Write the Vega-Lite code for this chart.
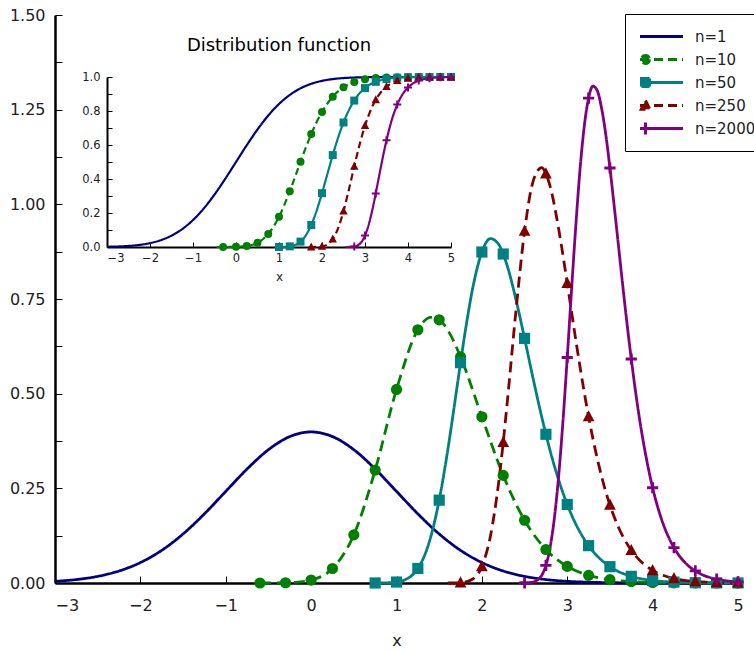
{
  "$schema": "https://vega.github.io/schema/vega-lite/v6.json",
  "width": 683,
  "height": 568,
  "autosize": "none",
  "padding": {"left": 55, "top": 15, "right": 16, "bottom": 69},
  "config": {
    "font": "DejaVu Sans",
    "view": {"stroke": null},
    "legend": {"strokeWidth": 1},
    "axis": {"grid": false, "domainColor": "black", "tickColor": "black", "tickWidth": 1, "labelColor": "#222", "titleColor": "#222", "titleFontWeight": "normal", "labelOverlap": false, "labelFlush": false, "labelFont": "DejaVu Sans", "titleFont": "DejaVu Sans"}
  },
  "datasets": {
    "d": [
      {"n": "n=1", "x": -3, "pdf": 0.00443, "cdf": 0.00135},
      {"n": "n=1", "x": -2.75, "pdf": 0.00909, "cdf": 0.00298},
      {"n": "n=1", "x": -2.5, "pdf": 0.01753, "cdf": 0.00621},
      {"n": "n=1", "x": -2.25, "pdf": 0.03174, "cdf": 0.01222},
      {"n": "n=1", "x": -2, "pdf": 0.05399, "cdf": 0.02275},
      {"n": "n=1", "x": -1.75, "pdf": 0.08628, "cdf": 0.04006},
      {"n": "n=1", "x": -1.5, "pdf": 0.12952, "cdf": 0.06681},
      {"n": "n=1", "x": -1.25, "pdf": 0.18265, "cdf": 0.10565},
      {"n": "n=1", "x": -1, "pdf": 0.24197, "cdf": 0.15866},
      {"n": "n=1", "x": -0.75, "pdf": 0.30114, "cdf": 0.22663},
      {"n": "n=1", "x": -0.5, "pdf": 0.35207, "cdf": 0.30854},
      {"n": "n=1", "x": -0.25, "pdf": 0.38667, "cdf": 0.40129},
      {"n": "n=1", "x": 0, "pdf": 0.39894, "cdf": 0.5},
      {"n": "n=1", "x": 0.25, "pdf": 0.38667, "cdf": 0.59871},
      {"n": "n=1", "x": 0.5, "pdf": 0.35207, "cdf": 0.69146},
      {"n": "n=1", "x": 0.75, "pdf": 0.30114, "cdf": 0.77337},
      {"n": "n=1", "x": 1, "pdf": 0.24197, "cdf": 0.84134},
      {"n": "n=1", "x": 1.25, "pdf": 0.18265, "cdf": 0.89435},
      {"n": "n=1", "x": 1.5, "pdf": 0.12952, "cdf": 0.93319},
      {"n": "n=1", "x": 1.75, "pdf": 0.08628, "cdf": 0.95994},
      {"n": "n=1", "x": 2, "pdf": 0.05399, "cdf": 0.97725},
      {"n": "n=1", "x": 2.25, "pdf": 0.03174, "cdf": 0.98778},
      {"n": "n=1", "x": 2.5, "pdf": 0.01753, "cdf": 0.99379},
      {"n": "n=1", "x": 2.75, "pdf": 0.00909, "cdf": 0.99702},
      {"n": "n=1", "x": 3, "pdf": 0.00443, "cdf": 0.99865},
      {"n": "n=1", "x": 3.25, "pdf": 0.00203, "cdf": 0.99942},
      {"n": "n=1", "x": 3.5, "pdf": 0.00087, "cdf": 0.99977},
      {"n": "n=1", "x": 3.75, "pdf": 0.00035, "cdf": 0.99991},
      {"n": "n=1", "x": 4, "pdf": 0.00013, "cdf": 0.99997},
      {"n": "n=1", "x": 4.5, "pdf": 0.00002, "cdf": 1},
      {"n": "n=1", "x": 5, "pdf": 0, "cdf": 1},

      {"n": "n=10", "x": -0.6, "pdf": 0.00003, "cdf": null},
      {"n": "n=10", "x": -0.45, "pdf": 0.00015, "cdf": 0.00001},
      {"n": "n=10", "x": -0.3, "pdf": 0.00066, "cdf": 0.00007},
      {"n": "n=10", "x": -0.15, "pdf": 0.00246, "cdf": 0.00027},
      {"n": "n=10", "x": 0, "pdf": 0.00779, "cdf": 0.00098},
      {"n": "n=10", "x": 0.25, "pdf": 0.03823, "cdf": 0.00592},
      {"n": "n=10", "x": 0.5, "pdf": 0.1272, "cdf": 0.02498},
      {"n": "n=10", "x": 0.75, "pdf": 0.2981, "cdf": 0.07656},
      {"n": "n=10", "x": 1, "pdf": 0.5111, "cdf": 0.17772},
      {"n": "n=10", "x": 1.25, "pdf": 0.6687, "cdf": 0.32742},
      {"n": "n=10", "x": 1.4, "pdf": 0.7017, "cdf": 0.43082},
      {"n": "n=10", "x": 1.5, "pdf": 0.6951, "cdf": 0.50082},
      {"n": "n=10", "x": 1.6, "pdf": 0.6679, "cdf": 0.5692},
      {"n": "n=10", "x": 1.75, "pdf": 0.5971, "cdf": 0.66437},
      {"n": "n=10", "x": 2, "pdf": 0.4389, "cdf": 0.79444},
      {"n": "n=10", "x": 2.25, "pdf": 0.2842, "cdf": 0.8843},
      {"n": "n=10", "x": 2.5, "pdf": 0.1657, "cdf": 0.9396},
      {"n": "n=10", "x": 2.75, "pdf": 0.0885, "cdf": 0.9706},
      {"n": "n=10", "x": 3, "pdf": 0.04378, "cdf": 0.98658},
      {"n": "n=10", "x": 3.25, "pdf": 0.02018, "cdf": 0.99425},
      {"n": "n=10", "x": 3.5, "pdf": 0.00871, "cdf": 0.99767},
      {"n": "n=10", "x": 3.75, "pdf": 0.00353, "cdf": 0.99912},
      {"n": "n=10", "x": 4, "pdf": 0.00134, "cdf": 0.99968},
      {"n": "n=10", "x": 4.25, "pdf": 0.00048, "cdf": 0.99989},
      {"n": "n=10", "x": 4.5, "pdf": 0.00016, "cdf": 0.99996},
      {"n": "n=10", "x": 4.75, "pdf": 0.00005, "cdf": 0.99999},
      {"n": "n=10", "x": 5, "pdf": 0.00002, "cdf": 1},

      {"n": "n=50", "x": 0.7, "pdf": 0.00002, "cdf": null},
      {"n": "n=50", "x": 0.75, "pdf": 0.00005, "cdf": null},
      {"n": "n=50", "x": 0.9, "pdf": 0.00062, "cdf": 0.00004},
      {"n": "n=50", "x": 1, "pdf": 0.00255, "cdf": 0.00018},
      {"n": "n=50", "x": 1.1, "pdf": 0.0086, "cdf": 0.00068},
      {"n": "n=50", "x": 1.2, "pdf": 0.0243, "cdf": 0.00222},
      {"n": "n=50", "x": 1.25, "pdf": 0.03842, "cdf": 0.00376},
      {"n": "n=50", "x": 1.3, "pdf": 0.0583, "cdf": 0.00614},
      {"n": "n=50", "x": 1.4, "pdf": 0.1209, "cdf": 0.01484},
      {"n": "n=50", "x": 1.5, "pdf": 0.2188, "cdf": 0.03152},
      {"n": "n=50", "x": 1.6, "pdf": 0.3505, "cdf": 0.05973},
      {"n": "n=50", "x": 1.7, "pdf": 0.5037, "cdf": 0.10234},
      {"n": "n=50", "x": 1.75, "pdf": 0.5819, "cdf": 0.12948},
      {"n": "n=50", "x": 1.8, "pdf": 0.657, "cdf": 0.16046},
      {"n": "n=50", "x": 1.9, "pdf": 0.7868, "cdf": 0.23293},
      {"n": "n=50", "x": 2, "pdf": 0.8741, "cdf": 0.31645},
      {"n": "n=50", "x": 2.1, "pdf": 0.9094, "cdf": 0.40615},
      {"n": "n=50", "x": 2.2, "pdf": 0.8932, "cdf": 0.49664},
      {"n": "n=50", "x": 2.25, "pdf": 0.8688, "cdf": 0.54076},
      {"n": "n=50", "x": 2.3, "pdf": 0.8353, "cdf": 0.58338},
      {"n": "n=50", "x": 2.4, "pdf": 0.7478, "cdf": 0.6625},
      {"n": "n=50", "x": 2.5, "pdf": 0.646, "cdf": 0.73239},
      {"n": "n=50", "x": 2.6, "pdf": 0.5401, "cdf": 0.79166},
      {"n": "n=50", "x": 2.7, "pdf": 0.4395, "cdf": 0.8406},
      {"n": "n=50", "x": 2.75, "pdf": 0.3927, "cdf": 0.86137},
      {"n": "n=50", "x": 2.9, "pdf": 0.2715, "cdf": 0.9121},
      {"n": "n=50", "x": 3, "pdf": 0.2074, "cdf": 0.93469},
      {"n": "n=50", "x": 3.1, "pdf": 0.1558, "cdf": 0.9536},
      {"n": "n=50", "x": 3.25, "pdf": 0.09862, "cdf": 0.97156},
      {"n": "n=50", "x": 3.5, "pdf": 0.04315, "cdf": 0.98842},
      {"n": "n=50", "x": 3.75, "pdf": 0.01757, "cdf": 0.99558},
      {"n": "n=50", "x": 4, "pdf": 0.00669, "cdf": 0.99842},
      {"n": "n=50", "x": 4.25, "pdf": 0.00239, "cdf": 0.99948},
      {"n": "n=50", "x": 4.5, "pdf": 0.0008, "cdf": 0.99983},
      {"n": "n=50", "x": 4.75, "pdf": 0.00026, "cdf": 0.99995},
      {"n": "n=50", "x": 5, "pdf": 0.00008, "cdf": 0.99999},

      {"n": "n=250", "x": 1.6, "pdf": 0.00002, "cdf": null},
      {"n": "n=250", "x": 1.7, "pdf": 0.00028, "cdf": 0.00001},
      {"n": "n=250", "x": 1.75, "pdf": 0.00082, "cdf": 0.00004},
      {"n": "n=250", "x": 1.8, "pdf": 0.00218, "cdf": 0.00011},
      {"n": "n=250", "x": 1.9, "pdf": 0.01158, "cdf": 0.00069},
      {"n": "n=250", "x": 2, "pdf": 0.0438, "cdf": 0.00317},
      {"n": "n=250", "x": 2.1, "pdf": 0.1237, "cdf": 0.01105},
      {"n": "n=250", "x": 2.2, "pdf": 0.2717, "cdf": 0.03021},
      {"n": "n=250", "x": 2.25, "pdf": 0.3715, "cdf": 0.04625},
      {"n": "n=250", "x": 2.3, "pdf": 0.4839, "cdf": 0.06759},
      {"n": "n=250", "x": 2.4, "pdf": 0.7204, "cdf": 0.12765},
      {"n": "n=250", "x": 2.5, "pdf": 0.9293, "cdf": 0.21072},
      {"n": "n=250", "x": 2.6, "pdf": 1.0608, "cdf": 0.31099},
      {"n": "n=250", "x": 2.7, "pdf": 1.097, "cdf": 0.41967},
      {"n": "n=250", "x": 2.75, "pdf": 1.0809, "cdf": 0.4742},
      {"n": "n=250", "x": 2.8, "pdf": 1.0471, "cdf": 0.52751},
      {"n": "n=250", "x": 2.9, "pdf": 0.9343, "cdf": 0.62696},
      {"n": "n=250", "x": 3, "pdf": 0.7915, "cdf": 0.7134},
      {"n": "n=250", "x": 3.1, "pdf": 0.6418, "cdf": 0.78505},
      {"n": "n=250", "x": 3.2, "pdf": 0.5023, "cdf": 0.8422},
      {"n": "n=250", "x": 3.25, "pdf": 0.4394, "cdf": 0.86567},
      {"n": "n=250", "x": 3.3, "pdf": 0.3819, "cdf": 0.88625},
      {"n": "n=250", "x": 3.4, "pdf": 0.2832, "cdf": 0.9192},
      {"n": "n=250", "x": 3.5, "pdf": 0.2059, "cdf": 0.94341},
      {"n": "n=250", "x": 3.6, "pdf": 0.1471, "cdf": 0.96118},
      {"n": "n=250", "x": 3.75, "pdf": 0.08633, "cdf": 0.97815},
      {"n": "n=250", "x": 3.9, "pdf": 0.0492, "cdf": 0.9881},
      {"n": "n=250", "x": 4, "pdf": 0.03324, "cdf": 0.99211},
      {"n": "n=250", "x": 4.25, "pdf": 0.01189, "cdf": 0.99733},
      {"n": "n=250", "x": 4.5, "pdf": 0.004, "cdf": 0.99915},
      {"n": "n=250", "x": 4.75, "pdf": 0.00128, "cdf": 0.99975},
      {"n": "n=250", "x": 5, "pdf": 0.00038, "cdf": 0.99993},

      {"n": "n=2000", "x": 2.45, "pdf": 0.00002, "cdf": null},
      {"n": "n=2000", "x": 2.5, "pdf": 0.00014, "cdf": null},
      {"n": "n=2000", "x": 2.55, "pdf": 0.00063, "cdf": 0.00002},
      {"n": "n=2000", "x": 2.6, "pdf": 0.00238, "cdf": 0.00009},
      {"n": "n=2000", "x": 2.7, "pdf": 0.02011, "cdf": 0.00096},
      {"n": "n=2000", "x": 2.75, "pdf": 0.0466, "cdf": 0.00256},
      {"n": "n=2000", "x": 2.8, "pdf": 0.0952, "cdf": 0.006},
      {"n": "n=2000", "x": 2.85, "pdf": 0.1731, "cdf": 0.01258},
      {"n": "n=2000", "x": 2.9, "pdf": 0.2845, "cdf": 0.0239},
      {"n": "n=2000", "x": 2.95, "pdf": 0.4281, "cdf": 0.0416},
      {"n": "n=2000", "x": 3, "pdf": 0.5955, "cdf": 0.06709},
      {"n": "n=2000", "x": 3.05, "pdf": 0.7729, "cdf": 0.10134},
      {"n": "n=2000", "x": 3.1, "pdf": 0.9426, "cdf": 0.1441},
      {"n": "n=2000", "x": 3.15, "pdf": 1.0934, "cdf": 0.1955},
      {"n": "n=2000", "x": 3.2, "pdf": 1.2076, "cdf": 0.2531},
      {"n": "n=2000", "x": 3.25, "pdf": 1.2806, "cdf": 0.3154},
      {"n": "n=2000", "x": 3.3, "pdf": 1.3121, "cdf": 0.3806},
      {"n": "n=2000", "x": 3.35, "pdf": 1.3011, "cdf": 0.4458},
      {"n": "n=2000", "x": 3.4, "pdf": 1.2562, "cdf": 0.5097},
      {"n": "n=2000", "x": 3.45, "pdf": 1.1865, "cdf": 0.5712},
      {"n": "n=2000", "x": 3.5, "pdf": 1.0959, "cdf": 0.6276},
      {"n": "n=2000", "x": 3.55, "pdf": 0.995, "cdf": 0.6798},
      {"n": "n=2000", "x": 3.6, "pdf": 0.8907, "cdf": 0.7276},
      {"n": "n=2000", "x": 3.65, "pdf": 0.7857, "cdf": 0.7696},
      {"n": "n=2000", "x": 3.7, "pdf": 0.685, "cdf": 0.8058},
      {"n": "n=2000", "x": 3.75, "pdf": 0.5916, "cdf": 0.838},
      {"n": "n=2000", "x": 3.8, "pdf": 0.5054, "cdf": 0.8654},
      {"n": "n=2000", "x": 3.85, "pdf": 0.4285, "cdf": 0.8886},
      {"n": "n=2000", "x": 3.9, "pdf": 0.3615, "cdf": 0.9083},
      {"n": "n=2000", "x": 4, "pdf": 0.2515, "cdf": 0.9386},
      {"n": "n=2000", "x": 4.1, "pdf": 0.1714, "cdf": 0.9595},
      {"n": "n=2000", "x": 4.2, "pdf": 0.1147, "cdf": 0.9738},
      {"n": "n=2000", "x": 4.25, "pdf": 0.0934, "cdf": 0.9788},
      {"n": "n=2000", "x": 4.3, "pdf": 0.0757, "cdf": 0.9831},
      {"n": "n=2000", "x": 4.4, "pdf": 0.0493, "cdf": 0.9892},
      {"n": "n=2000", "x": 4.5, "pdf": 0.0318, "cdf": 0.9932},
      {"n": "n=2000", "x": 4.6, "pdf": 0.0201, "cdf": 0.9958},
      {"n": "n=2000", "x": 4.7, "pdf": 0.0128, "cdf": 0.9974},
      {"n": "n=2000", "x": 4.75, "pdf": 0.0102, "cdf": 0.998},
      {"n": "n=2000", "x": 4.8, "pdf": 0.008, "cdf": 0.9984},
      {"n": "n=2000", "x": 4.9, "pdf": 0.0048, "cdf": 0.999},
      {"n": "n=2000", "x": 5, "pdf": 0.003, "cdf": 0.9994}
    ]
  },
  "layer": [
    {
      "layer": [
        {
          "data": {"name": "d"},
          "mark": {"type": "line", "interpolate": "monotone", "strokeWidth": 2.8, "clip": false},
          "encoding": {
            "x": {"field": "x", "type": "quantitative", "scale": {"domain": [-3, 5], "nice": false, "zero": false},
              "axis": {"values": [-3, -2, -1, 0, 1, 2, 3, 4, 5], "format": "d", "title": "x", "tickSize": -7, "domainWidth": 2.5, "labelFontSize": 16, "labelPadding": 21, "labelAlign": {"condition": {"test": "datum.value == -3", "value": "left"}, "value": "center"}, "titleFontSize": 16, "titlePadding": 19}},
            "y": {"field": "pdf", "type": "quantitative", "scale": {"domain": [0, 1.5], "nice": false},
              "axis": {"values": [0, 0.125, 0.25, 0.375, 0.5, 0.625, 0.75, 0.875, 1, 1.125, 1.25, 1.375, 1.5], "title": null, "tickSize": -7, "domainWidth": 2.5, "labelFontSize": 16, "labelPadding": 17,
                "labelExpr": "abs(datum.value*4 - round(datum.value*4)) < 0.001 ? format(datum.value, '.2f') : ''",
                "encode": {"ticks": {"x2": {"condition": {"test": "abs(datum.value*4 - round(datum.value*4)) > 0.001", "value": 4}, "value": 7}}}}},
            "color": {"field": "n", "type": "nominal",
              "scale": {"domain": ["n=1", "n=10", "n=50", "n=250", "n=2000"], "range": ["#000080", "#008000", "#008080", "#800000", "#800080"]},
              "legend": {
                "orient": "none", "legendX": 570, "legendY": -1, "title": null,
                "strokeColor": "black", "fillColor": "white", "padding": 14, "cornerRadius": 0,
                "labelFont": "DejaVu Sans", "labelFontSize": 15, "labelColor": "#222",
                "symbolSize": 100, "symbolStrokeWidth": 3, "labelOffset": 41, "rowPadding": 6, "symbolOpacity": 1, "clipHeight": 17,
                "symbolType": {"expr": "datum.value == 'n=1' ? 'M-1.3,0H7.3' : datum.value == 'n=10' ? 'M-1.3,0H7.3M0.6,0A0.8,0.8,0,1,1,-1,0A0.8,0.8,0,1,1,0.6,0Z' : datum.value == 'n=50' ? 'M-1.3,0H7.3M-1,-0.8H0.6V0.8H-1Z' : datum.value == 'n=250' ? 'M-1.3,0H7.3M-0.2,-1L0.65,0.75H-1.05Z' : 'M-1.3,0H7.3M-0.2,-1.2V1.2'"},
                "symbolDash": {"expr": "(datum.value == 'n=10' || datum.value == 'n=250') ? [9,5] : [1,0]"},
                "symbolFillColor": {"expr": "scale('color', datum.value)"},
                "symbolStrokeColor": {"expr": "scale('color', datum.value)"}
              }},
            "strokeDash": {"field": "n", "type": "nominal", "scale": {"domain": ["n=10", "n=250", "n=1", "n=50", "n=2000"], "range": [[11, 6], [11, 6], [1, 0], [1, 0], [1, 0]]}, "legend": null}
          }
        },
        {
          "data": {"name": "d"},
          "transform": [{"filter": "datum.n != 'n=1' && (round(datum.x*4) == datum.x*4 || datum.x == -0.6 || datum.x == -0.3)"}],
          "mark": {"type": "point", "filled": true, "opacity": 1, "size": 125, "strokeWidth": 0, "clip": false},
          "encoding": {
            "x": {"field": "x", "type": "quantitative"},
            "y": {"field": "pdf", "type": "quantitative"},
            "color": {"field": "n", "type": "nominal", "scale": {"domain": ["n=1", "n=10", "n=50", "n=250", "n=2000"], "range": ["#000080", "#008000", "#008080", "#800000", "#800080"]}},
            "shape": {"field": "n", "type": "nominal", "scale": {"domain": ["n=10", "n=50", "n=250", "n=2000"], "range": ["circle", "square", "M0,-1.15L1.05,0.85L-1.05,0.85Z", "M-1,-0.25H-0.25V-1H0.25V-0.25H1V0.25H0.25V1H-0.25V0.25H-1Z"]}, "legend": null}
          }
        }
      ]
    },
    {
      "layer": [
        {
          "data": {"name": "d"},
          "transform": [{"filter": "datum.cdf != null"}],
          "mark": {"type": "line", "interpolate": "monotone", "strokeWidth": 2.2, "clip": false},
          "encoding": {
            "x": {"field": "x", "type": "quantitative", "scale": {"domain": [-3, 5], "nice": false, "zero": false, "range": [52, 396]},
              "axis": {"orient": "bottom", "offset": -336, "values": [-3, -2, -1, 0, 1, 2, 3, 4, 5], "format": "d", "title": "x", "tickSize": -5, "domainWidth": 2, "labelFontSize": 11.5, "labelPadding": 10, "labelAlign": {"condition": {"test": "datum.value == -3", "value": "left"}, "value": "center"}, "titleFontSize": 12, "titlePadding": 8}},
            "y": {"field": "cdf", "type": "quantitative", "scale": {"domain": [0, 1], "nice": false, "range": [232, 62]},
              "axis": {"orient": "left", "offset": -52, "values": [0, 0.1, 0.2, 0.3, 0.4, 0.5, 0.6, 0.7, 0.8, 0.9, 1], "title": null, "tickSize": -5, "domainWidth": 2, "labelFontSize": 11.5, "labelPadding": 12,
                "labelExpr": "abs(datum.value*5 - round(datum.value*5)) < 0.001 ? format(datum.value, '.1f') : ''",
                "encode": {"ticks": {"x2": {"condition": {"test": "abs(datum.value*5 - round(datum.value*5)) > 0.001", "value": 3}, "value": 5}}}}},
            "color": {"field": "n", "type": "nominal", "scale": {"domain": ["n=1", "n=10", "n=50", "n=250", "n=2000"], "range": ["#000080", "#008000", "#008080", "#800000", "#800080"]}},
            "strokeDash": {"field": "n", "type": "nominal", "scale": {"domain": ["n=250", "n=10", "n=2000", "n=50", "n=1"], "range": [[7, 4], [7, 4], [1, 0], [1, 0], [1, 0]]}, "legend": null}
          }
        },
        {
          "data": {"name": "d"},
          "transform": [{"filter": "datum.cdf != null && datum.n != 'n=1' && (round(datum.x*4) == datum.x*4 || datum.x == -0.6 || datum.x == -0.3)"}],
          "mark": {"type": "point", "filled": true, "opacity": 1, "size": 64, "strokeWidth": 0, "clip": false},
          "encoding": {
            "x": {"field": "x", "type": "quantitative"},
            "y": {"field": "cdf", "type": "quantitative"},
            "color": {"field": "n", "type": "nominal", "scale": {"domain": ["n=1", "n=10", "n=50", "n=250", "n=2000"], "range": ["#000080", "#008000", "#008080", "#800000", "#800080"]}},
            "shape": {"field": "n", "type": "nominal", "scale": {"domain": ["n=10", "n=50", "n=250", "n=2000"], "range": ["circle", "square", "M0,-1.15L1.05,0.85L-1.05,0.85Z", "M-1,-0.25H-0.25V-1H0.25V-0.25H1V0.25H0.25V1H-0.25V0.25H-1Z"]}, "legend": null}
          }
        },
        {
          "data": {"values": [{"label": "Distribution function", "x": 1, "cdf": 1.18}]},
          "mark": {"type": "text", "font": "DejaVu Sans", "fontSize": 18, "color": "black", "baseline": "middle", "align": "center"},
          "encoding": {
            "x": {"field": "x", "type": "quantitative"},
            "y": {"field": "cdf", "type": "quantitative"},
            "text": {"field": "label"}
          }
        }
      ]
    }
  ],
  "resolve": {
    "scale": {"x": "independent", "y": "independent", "strokeDash": "independent"},
    "axis": {"x": "independent", "y": "independent"}
  }
}
